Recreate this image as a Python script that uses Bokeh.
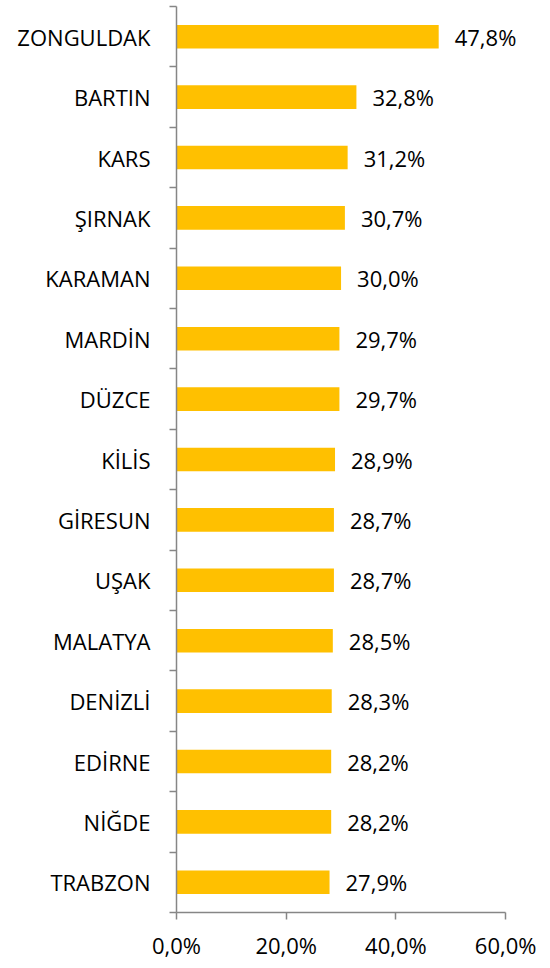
from bokeh.plotting import figure
from bokeh.models import Range1d, FixedTicker, ColumnDataSource
from bokeh.embed import file_html
from bokeh.resources import INLINE
from bokeh.core.properties import value

categories = ["ZONGULDAK", "BARTIN", "KARS", "ŞIRNAK", "KARAMAN", "MARDİN", "DÜZCE",
              "KİLİS", "GİRESUN", "UŞAK", "MALATYA", "DENİZLİ", "EDİRNE", "NİĞDE", "TRABZON"]
values = [47.8, 32.8, 31.2, 30.7, 30.0, 29.7, 29.7, 28.9, 28.7, 28.7, 28.5, 28.3, 28.2, 28.2, 27.9]
x_ticks = [0, 20, 40, 60]
x_tick_labels = ["0,0%", "20,0%", "40,0%", "60,0%"]

n = len(categories)
ypos = [n - i - 0.5 for i in range(n)]
labels = [f"{v:.1f}".replace(".", ",") + "%" for v in values]

FONT = "Open Sans"
FS = "22px"
src = ColumnDataSource(dict(y=ypos, v=values, lab=labels))

W, H = 550, 962
XMAX = 68
frame_w = 329 * XMAX / 60
p = figure(width=W, height=H, output_backend="svg", toolbar_location=None,
           x_range=Range1d(0, XMAX), y_range=Range1d(0, n),
           min_border_left=176, min_border_right=int(round(W - 176 - frame_w)),
           min_border_top=6, min_border_bottom=H - 917)
p.outline_line_color = None
p.xgrid.visible = False
p.ygrid.visible = False

p.hbar(y="y", right="v", left=0, height=0.39, source=src, fill_color="#FFC000", line_color=None)
p.text(x="v", y="y", text="lab", source=src, x_offset=16, text_align="left", text_baseline="middle",
       text_font=value(FONT), text_font_size=FS, text_color="#000000")

axis_color = "#868686"
yax = p.yaxis[0]
yax.ticker = FixedTicker(ticks=ypos, minor_ticks=list(range(n + 1)))
yax.major_label_overrides = {y: c for y, c in zip(ypos, categories)}
yax.major_tick_out = 0
yax.major_tick_in = 0
yax.minor_tick_out = 7
yax.minor_tick_in = 0
yax.minor_tick_line_color = axis_color
yax.minor_tick_line_width = 1.5
yax.axis_line_color = axis_color
yax.axis_line_width = 1.5
yax.major_label_standoff = 19
yax.major_label_text_font = FONT
yax.major_label_text_font_size = FS
yax.major_label_text_color = "#000000"

xax = p.xaxis[0]
xax.ticker = FixedTicker(ticks=x_ticks, minor_ticks=[])
xax.bounds = (0, 60)
xax.major_label_overrides = {t: l for t, l in zip(x_ticks, x_tick_labels)}
xax.major_tick_out = 7
xax.major_tick_in = 0
xax.major_tick_line_color = axis_color
xax.major_tick_line_width = 1.5
xax.axis_line_color = axis_color
xax.axis_line_width = 1.5
xax.major_label_standoff = 10
xax.major_label_text_font = FONT
xax.major_label_text_font_size = FS
xax.major_label_text_color = "#000000"

open("out.html", "w").write(file_html(p, INLINE))
